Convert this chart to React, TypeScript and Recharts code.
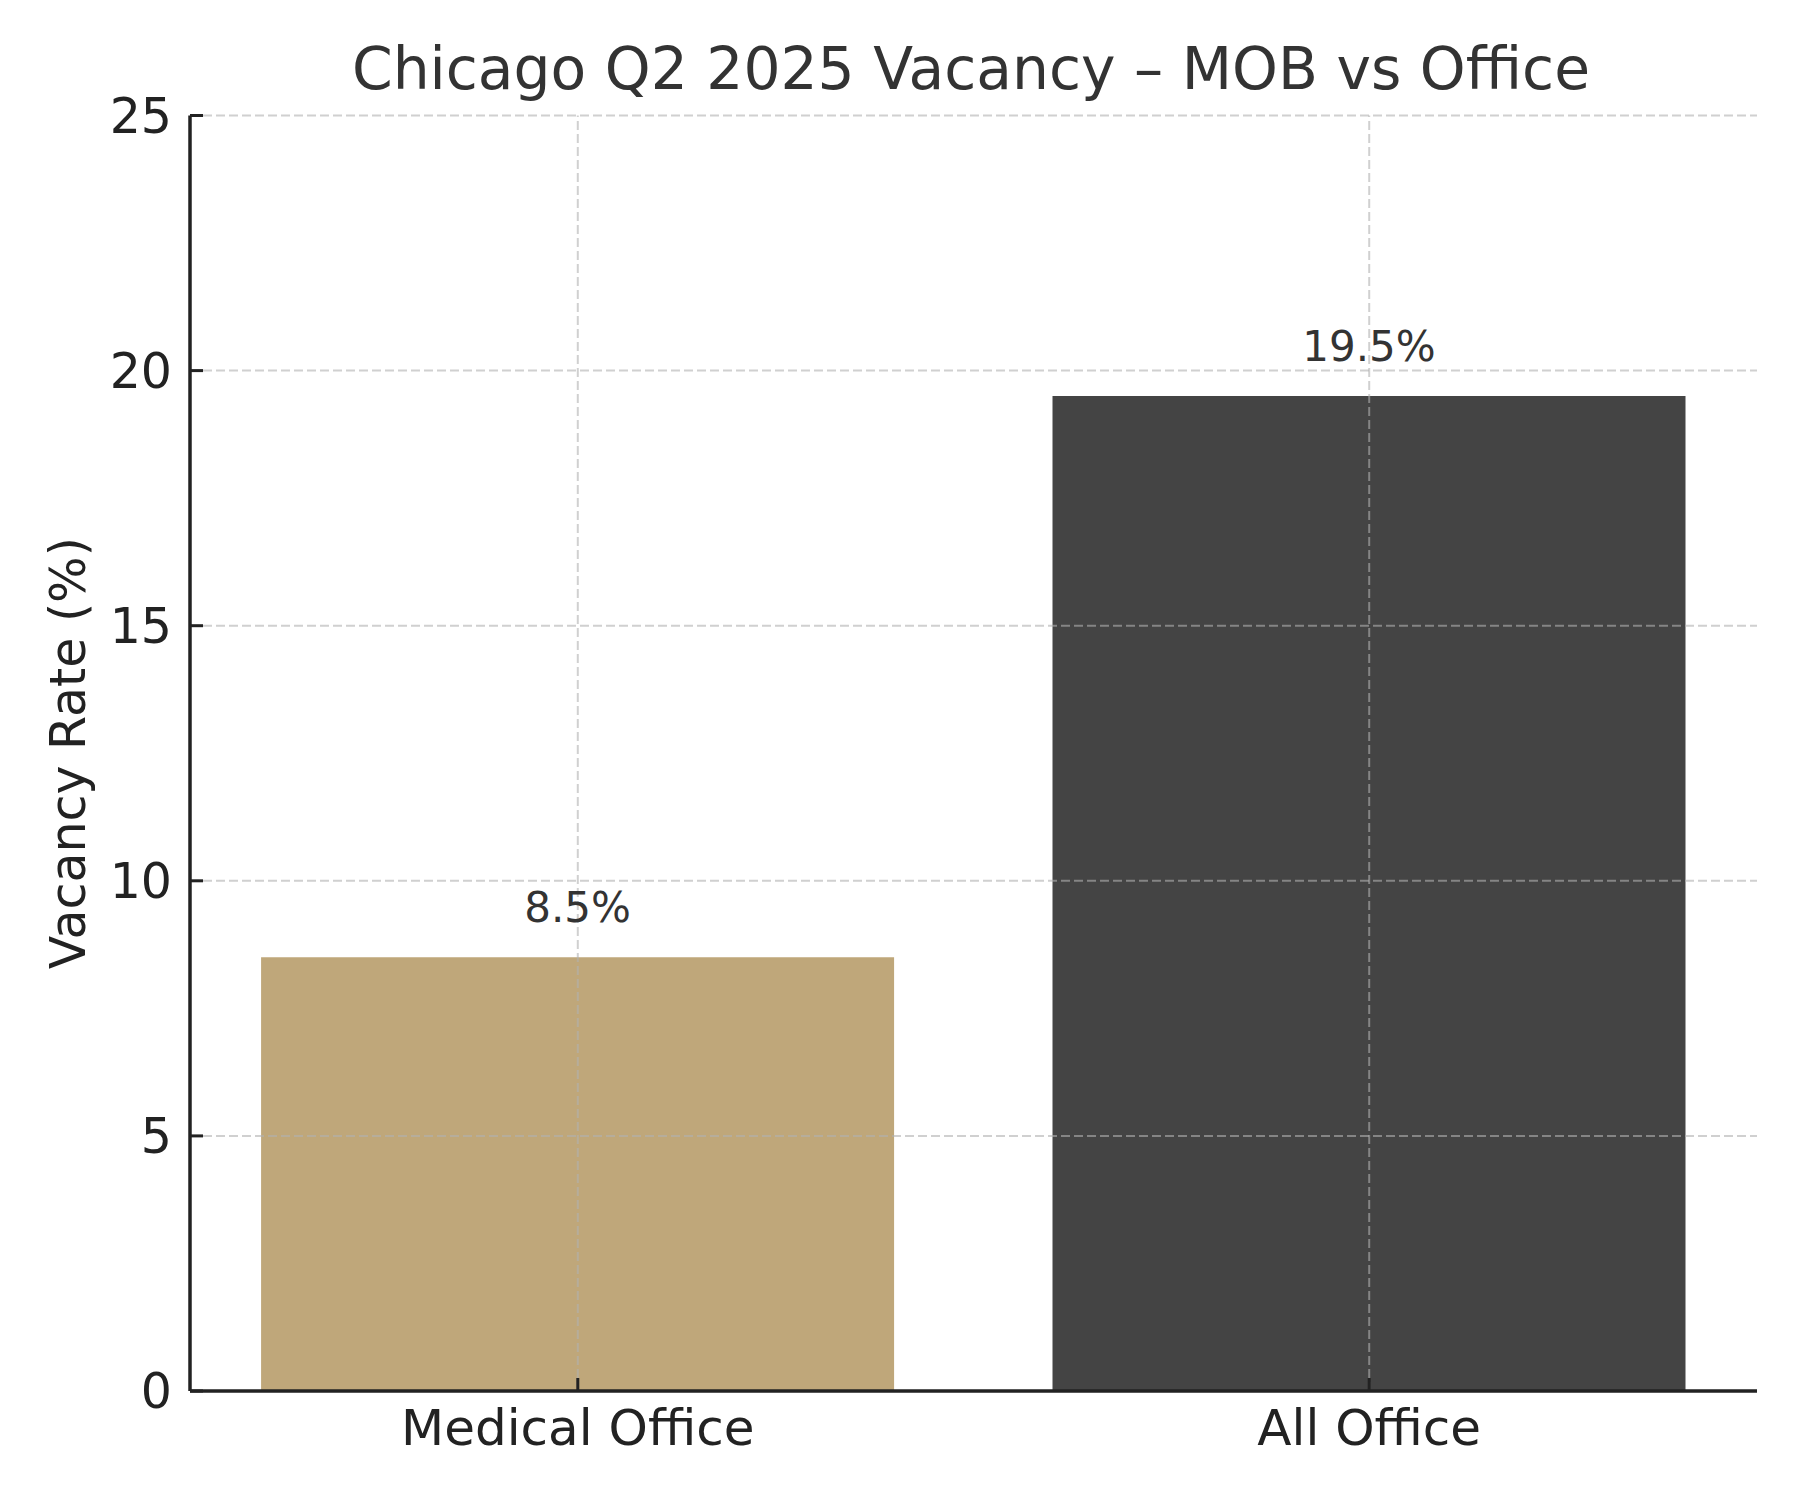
import React from "react";
import {
  BarChart,
  Bar,
  Cell,
  XAxis,
  YAxis,
  CartesianGrid,
  ReferenceLine,
  LabelList,
} from "recharts";

const categories = ["Medical Office", "All Office"];
const vacancy = [8.5, 19.5];
const barColors = ["#BFA77A", "#444444"];
const xTicks = [0, 1];
const yTicks = [0, 5, 10, 15, 20, 25];

const data = categories.map((name, i) => ({ idx: i, name, vacancy: vacancy[i] }));

const font = "DejaVu Sans";
const gridStyle = {
  stroke: "#b0b0b0",
  strokeOpacity: 0.6,
  strokeWidth: 2,
  strokeDasharray: "9 4",
};

export default function App() {
  return (
    <div style={{ position: "absolute", left: 0, top: 0, width: 1800, height: 1500, background: "#fff" }}>
      <BarChart
        width={1800}
        height={1500}
        data={data}
        margin={{ top: 115.5, right: 43, bottom: 49, left: 40 }}
        style={{ fontFamily: font }}
      >
        <CartesianGrid vertical={false} zIndex={500} {...gridStyle} />
        <Bar dataKey="vacancy" barSize={633} isAnimationActive={false}>
          {data.map((d, i) => (
            <Cell key={d.name} fill={barColors[i]} />
          ))}
          <LabelList
            dataKey="vacancy"
            position="top"
            offset={35}
            formatter={(v: number) => `${v}%`}
            style={{ fontSize: 42, fill: "#333", fontFamily: font }}
          />
        </Bar>
        {xTicks.map((t) => (
          <ReferenceLine key={t} x={t} zIndex={500} {...gridStyle} />
        ))}
        <XAxis
          dataKey="idx"
          type="number"
          domain={[-0.49, 1.49]}
          ticks={xTicks}
          allowDataOverflow
          tickFormatter={(i: number) => categories[i] ?? ""}
          height={60}
          tickSize={-13}
          tickMargin={31}
          tick={{ fontSize: 50, fill: "#222", fontFamily: font }}
          tickLine={{ stroke: "#222", strokeWidth: 3 }}
          axisLine={{ stroke: "#222", strokeWidth: 3.5 }}
        />
        <YAxis
          domain={[0, 25]}
          ticks={yTicks}
          width={150}
          tickSize={-13}
          tickMargin={31}
          tick={{ fontSize: 49, fill: "#222", fontFamily: font }}
          tickLine={{ stroke: "#222", strokeWidth: 3 }}
          axisLine={{ stroke: "#222", strokeWidth: 3.5 }}
          label={{
            value: "Vacancy Rate (%)",
            angle: -90,
            position: "center",
            dx: -47,
            style: { fontSize: 49, fill: "#222", fontFamily: font, textAnchor: "middle" },
          }}
        />
      </BarChart>
      <div
        style={{
          position: "absolute",
          left: 171,
          top: 40,
          width: 1600,
          textAlign: "center",
          whiteSpace: "nowrap",
          fontFamily: font,
          fontSize: 58.3,
          lineHeight: "59px",
          color: "#333",
        }}
      >
        Chicago Q2 2025 Vacancy – MOB vs Office
      </div>
    </div>
  );
}
